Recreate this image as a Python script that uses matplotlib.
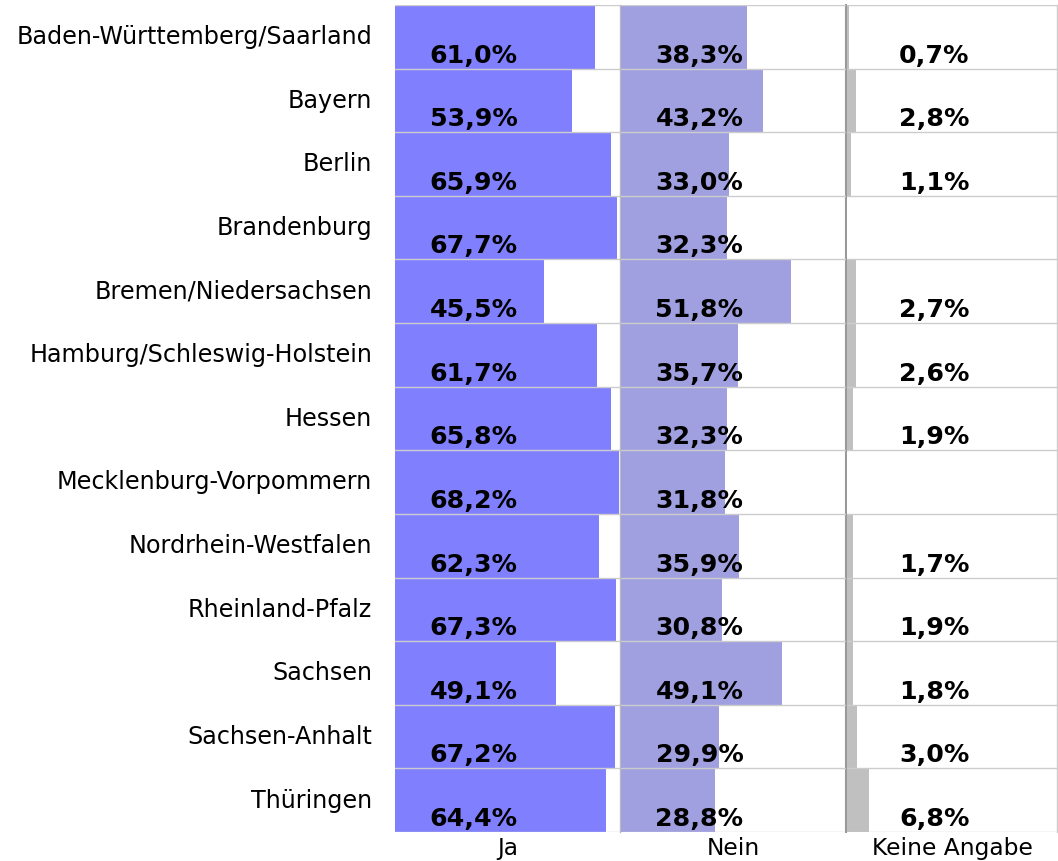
import matplotlib
matplotlib.use('Agg')
import matplotlib.pyplot as plt
import numpy as np

plt.rcParams['font.family'] = ['DejaVu Sans']

states = [
    'Baden-Württemberg/Saarland', 'Bayern', 'Berlin', 'Brandenburg',
    'Bremen/Niedersachsen', 'Hamburg/Schleswig-Holstein', 'Hessen',
    'Mecklenburg-Vorpommern', 'Nordrhein-Westfalen', 'Rheinland-Pfalz',
    'Sachsen', 'Sachsen-Anhalt', 'Thüringen',
]
ja = [61.0, 53.9, 65.9, 67.7, 45.5, 61.7, 65.8, 68.2, 62.3, 67.3, 49.1, 67.2, 64.4]
nein = [38.3, 43.2, 33.0, 32.3, 51.8, 35.7, 32.3, 31.8, 35.9, 30.8, 49.1, 29.9, 28.8]
keine = [0.7, 2.8, 1.1, None, 2.7, 2.6, 1.9, None, 1.7, 1.9, 1.8, 3.0, 6.8]
panels = ['Ja', 'Nein', 'Keine Angabe']

colors = ['#8080ff', '#a0a0e0', '#c0c0c0']
grid_col = '#cccccc'

W, H = 1058, 862
fig = plt.figure(figsize=(W / 100, H / 100), dpi=100)

top, bottom = 6, 833
px_per_pct = 3.28
boxes = [(395, 620), (621, 846), (847, 1057)]
right_cols = ['#bbbbbb', '#999999', '#cccccc']
n = len(states)
y = np.arange(n)

for k, (series, name) in enumerate(zip([ja, nein, keine], panels)):
    x0, x1 = boxes[k]
    ax = fig.add_axes([x0 / W, 1 - bottom / H, (x1 - x0) / W, (bottom - top) / H])
    vals = [np.nan if v is None else v for v in series]
    ax.barh(y, vals, height=1.0, color=colors[k], zorder=2)
    ax.set_xlim(0, (x1 - x0) / px_per_pct)
    ax.set_ylim(n - 0.5, -0.5)
    for b in np.arange(-0.5, n, 1.0):
        ax.axhline(b, color=grid_col, lw=1.0, zorder=3)
    for i, v in enumerate(series):
        if v is None:
            continue
        ax.text(37.3, i + 0.28, f'{v:.1f}%'.replace('.', ','), ha='right', va='center',
                fontsize=18.2, fontweight='bold', color='black', zorder=4)
    for s in ['top', 'left', 'bottom']:
        ax.spines[s].set_visible(False)
    ax.spines['right'].set_color(right_cols[k])
    ax.spines['right'].set_linewidth(1.5 if k == 1 else 1.0)
    ax.set_xticks([])
    if k == 0:
        ax.set_yticks(y - 0.05)
        ax.set_yticklabels(states, fontsize=17.2)
        ax.tick_params(axis='y', length=0, pad=16.5)
    else:
        ax.set_yticks([])
    ax.set_xlabel(name, fontsize=16.8, labelpad=3)

fig.savefig('out.png', dpi=100)
